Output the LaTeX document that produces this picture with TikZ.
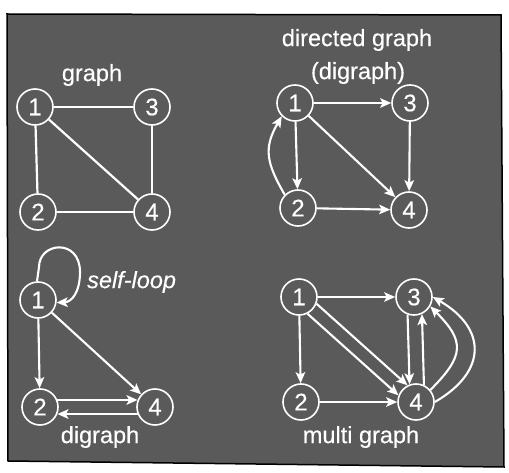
\documentclass[tikz,border=0pt]{standalone}
\usepackage{fontspec}
\setmainfont{Liberation Sans}
\newfontfamily\lblfont{Liberation Sans}[BoldFont={*},BoldFeatures={FakeBold=0.35},
  BoldItalicFont={* Italic},BoldItalicFeatures={FakeBold=0.35}]
\usetikzlibrary{arrows.meta,calc}
\definecolor{bgray}{HTML}{5A5A5A}
\tikzset{
  vtx/.style={circle,draw=white,line width=1.6pt,minimum size=36pt,inner sep=0pt,
    text=white,font=\lblfont\bfseries\fontsize{24}{26}\selectfont},
  lbl/.style={text=white,font=\lblfont\bfseries\fontsize{23.5}{26}\selectfont,inner sep=0pt},
  ued/.style={draw=white,line width=2.2pt},
  arr/.style={draw=white,line width=2.1pt,-{Stealth[length=11pt,width=9.5pt,inset=2.5pt]}},
}
\begin{document}
\begin{tikzpicture}[x=1pt,y=1pt]
\useasboundingbox (0,0) rectangle (509,472);
\fill[white] (0,0) rectangle (509,472);
\filldraw[fill=bgray,draw=black,line width=1.5pt] (7,458) -- (501,457) -- (504,5) -- (8,11) -- cycle;

% ---------- graph (top left)
\node[lbl] (lg) at (92,397) {graph};
\node[vtx] (a1) at (35,365) {1};
\node[vtx] (a3) at (152,365) {3};
\node[vtx] (a2) at (38,260) {2};
\node[vtx] (a4) at (152,260) {4};
\draw[ued] (a1) -- (a3);
\draw[ued] (a1) -- (a2);
\draw[ued] (a1) -- (a4);
\draw[ued] (a3) -- (a4);
\draw[ued] (a2) -- (a4);

% ---------- directed graph (top right)
\node[lbl] (ld1) at (357,432) {directed graph};
\node[lbl] (ld2) at (358,399) {(digraph)};
\node[vtx] (b1) at (295,369) {1};
\node[vtx] (b3) at (410,369) {3};
\node[vtx] (b2) at (298,264) {2};
\node[vtx] (b4) at (409,262) {4};
\draw[arr] (b1) -- (b3);
\draw[arr] (b1) -- (b2);
\draw[arr] (b1) -- (b4);
\draw[arr] (b3) -- (b4);
\draw[arr] (b2) -- (b4);
\draw[arr] (b2.135) to[out=120,in=-120,looseness=1.2] (b1.-135);

% ---------- digraph with self-loop (bottom left)
\node[vtx] (c1) at (38,172) {1};
\node[vtx] (c2) at (40,65) {2};
\node[vtx] (c4) at (155,65) {4};
\node[lbl,font=\lblfont\bfseries\itshape\fontsize{23.5}{26}\selectfont,anchor=west] (lsl) at (87,190) {self-loop};
\node[lbl] (ldg) at (100,35) {digraph};
\coordinate (lpA) at (39,205);
\coordinate (lpB) at (80,200);
\draw[arr] (c1.93) -- (lpA) .. controls (39,230) and (80,234) .. (lpB)
  .. controls (80,180) and (72,170) .. (c1.-8);
\draw[arr] (c1) -- (c2);
\draw[arr] (c1) -- (c4);
\draw[arr] (c2.22) -- (c4.158);
\draw[arr] (c4.-158) -- (c2.-22);

% ---------- multi graph (bottom right)
\node[vtx] (d1) at (299,175) {1};
\node[vtx] (d3) at (414,175) {3};
\node[vtx] (d2) at (301,70) {2};
\node[vtx] (d4) at (416,70) {4};
\node[lbl] (lmg) at (361,35) {multi graph};
\draw[arr] (d1) -- (d3);
\draw[arr] (d1) -- (d2);
\draw[arr] (d1.-21) -- (d4.117);
\draw[arr] (d1.-63) -- (d4.159);
\draw[arr] (d2) -- (d4);
\draw[arr] (d3.-110) -- (d4.110);
\draw[arr] (d4.65) -- (d3.-65);
\draw[arr] (d4.40) to[out=45,in=-45,looseness=1.5] (d3.-30);
\draw[arr] (d4.east) to[out=30,in=-30,looseness=1.5] (d3.east);
\end{tikzpicture}
\end{document}
